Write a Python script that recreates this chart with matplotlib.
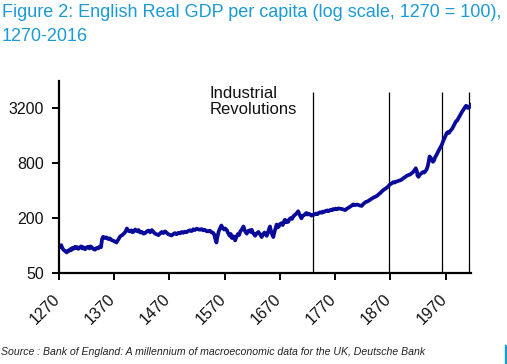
import matplotlib

matplotlib.use('Agg')
import matplotlib.pyplot as plt  # noqa: E402
import matplotlib.transforms as mtransforms  # noqa: E402
from matplotlib.patches import Rectangle  # noqa: E402

years = [1270, 1272, 1274, 1276, 1278, 1280, 1282, 1284, 1286, 1288, 1290, 1292, 1294,
         1296, 1299, 1301, 1303, 1305, 1307, 1310, 1312, 1314, 1317, 1320, 1322, 1325,
         1327, 1329, 1332, 1335, 1338, 1341, 1343, 1346, 1348, 1350, 1353, 1356, 1359,
         1362, 1365, 1368, 1371, 1374, 1377, 1380, 1382, 1385, 1388, 1390, 1393, 1395,
         1398, 1401, 1403, 1405, 1408, 1410, 1412, 1414, 1417, 1420, 1423, 1426, 1429,
         1432, 1435, 1438, 1441, 1444, 1447, 1450, 1453, 1456, 1459, 1462, 1465, 1468,
         1471, 1474, 1477, 1480, 1483, 1486, 1489, 1492, 1495, 1498, 1501, 1504, 1507,
         1510, 1513, 1516, 1519, 1522, 1525, 1528, 1531, 1534, 1537, 1540, 1543, 1546,
         1549, 1551, 1553, 1555, 1557, 1559, 1561, 1564, 1566, 1569, 1571, 1574, 1576,
         1579, 1581, 1583, 1586, 1589, 1591, 1594, 1596, 1598, 1601, 1604, 1606, 1608,
         1610, 1612, 1615, 1617, 1619, 1621, 1623, 1625, 1628, 1631, 1634, 1637, 1639,
         1642, 1644, 1646, 1648, 1650, 1652, 1654, 1656, 1658, 1660, 1662, 1664, 1666,
         1668, 1670, 1673, 1675, 1677, 1679, 1681, 1683, 1685, 1687, 1690, 1692, 1694,
         1696, 1699, 1701, 1703, 1705, 1707, 1709, 1711, 1714, 1716, 1718, 1720, 1722,
         1724, 1727, 1730, 1733, 1735, 1738, 1740, 1743, 1746, 1748, 1750, 1753, 1756,
         1758, 1761, 1764, 1766, 1768, 1771, 1773, 1776, 1779, 1782, 1785, 1788, 1791,
         1795, 1799, 1803, 1806, 1810, 1814, 1818, 1821, 1825, 1829, 1833, 1836, 1840,
         1843, 1846, 1849, 1851, 1854, 1858, 1862, 1866, 1868, 1870, 1873, 1875, 1878,
         1880, 1883, 1885, 1888, 1890, 1893, 1895, 1898, 1900, 1902, 1905, 1908, 1911,
         1913, 1915, 1916, 1918, 1919, 1921, 1923, 1925, 1927, 1929, 1931, 1933, 1935,
         1937, 1939, 1941, 1943, 1945, 1947, 1949, 1951, 1954, 1957, 1960, 1963, 1966,
         1969, 1972, 1974, 1976, 1978, 1980, 1982, 1984, 1987, 1989, 1991, 1993, 1996,
         1998, 2000, 2002, 2005, 2007, 2008, 2009, 2011, 2013, 2016]
gdp = [100, 97, 101, 94, 90, 88, 86, 84, 88, 87, 91, 89, 94,
       92, 97, 94, 96, 92, 95, 98, 93, 96, 91, 95, 97, 93,
       98, 96, 92, 90, 94, 93, 97, 96, 118, 125, 121, 123, 118,
       120, 115, 113, 111, 108, 116, 124, 128, 131, 137, 141, 154, 146,
       143, 147, 140, 142, 150, 147, 143, 148, 139, 141, 135, 137, 143,
       146, 140, 148, 141, 135, 133, 130, 136, 141, 137, 143, 138, 133,
       131, 129, 134, 137, 133, 138, 136, 141, 138, 142, 140, 145, 147,
       144, 151, 148, 153, 151, 149, 152, 147, 149, 144, 143, 146, 140,
       138, 132, 118, 108, 125, 142, 152, 166, 158, 150, 154, 147, 138,
       128, 134, 121, 126, 114, 124, 134, 130, 142, 150, 162, 148, 140,
       135, 144, 147, 141, 149, 138, 134, 128, 136, 141, 133, 124, 131,
       139, 135, 128, 137, 150, 162, 143, 132, 124, 140, 155, 170, 158,
       162, 172, 176, 168, 182, 192, 180, 186, 182, 195, 201, 196, 208,
       214, 222, 228, 238, 222, 210, 199, 212, 216, 223, 228, 219, 224,
       221, 213, 217, 220, 224, 221, 228, 232, 229, 236, 234, 240, 243,
       238, 246, 244, 251, 249, 254, 250, 256, 254, 252, 249, 245, 253,
       262, 272, 283, 278, 282, 276, 272, 286, 300, 306, 318, 326, 338,
       344, 352, 366, 374, 390, 410, 425, 443, 462, 472, 484, 496, 492,
       502, 508, 515, 520, 528, 545, 556, 572, 585, 592, 600, 618, 640,
       662, 690, 705, 655, 590, 568, 600, 612, 628, 640, 632, 650, 676,
       720, 810, 950, 920, 880, 830, 860, 930, 1000, 1090, 1180, 1270, 1420,
       1560, 1710, 1760, 1720, 1800, 1860, 1920, 2030, 2200, 2320, 2360, 2480, 2680,
       2820, 2960, 3080, 3300, 3420, 3400, 3260, 3250, 3290, 3480]

revolution_years = [1730, 1867, 1963, 2013]
x_ticks = [1270, 1370, 1470, 1570, 1670, 1770, 1870, 1970]
y_ticks = [50, 200, 800, 3200]

title = 'Figure 2: English Real GDP per capita (log scale, 1270 = 100),\n1270-2016'
source = 'Source : Bank of England: A millennium of macroeconomic data for the UK, Deutsche Bank'

fig = plt.figure(figsize=(5.07, 3.64), dpi=100)
ax = fig.add_axes([0.1164, 0.25, 0.8126, 0.5275])

ax.set_yscale('log')
ax.set_xlim(1270, 2016)
ax.set_ylim(50, 6400)

ax.vlines(revolution_years, 50, 4800, colors='black', linewidth=0.9, zorder=1)
ax.plot(years, gdp, color='#0a0a9a', linewidth=2.7, solid_joinstyle='round', zorder=2)

ax.set_yticks(y_ticks)
ax.set_yticklabels([str(v) for v in y_ticks])
ax.minorticks_off()
ax.set_xticks(x_ticks)
ax.set_xticklabels([str(v) for v in x_ticks], rotation=45, ha='right')

for side in ['top', 'right']:
    ax.spines[side].set_visible(False)
for side in ['left', 'bottom']:
    ax.spines[side].set_linewidth(1.6)
ax.tick_params(axis='both', direction='out', length=5, width=1.4, labelsize=11.5,
               labelcolor='#111111')
ax.tick_params(axis='y', pad=6)
ax.tick_params(axis='x', pad=8)
shift = mtransforms.ScaledTranslation(4 / 100, 0, fig.dpi_scale_trans)
for lbl in ax.get_xticklabels():
    lbl.set_transform(lbl.get_transform() + shift)
for lbl in ax.get_yticklabels() + ax.get_xticklabels():
    lbl.set_family('Liberation Sans')

ax.text(1543, 5700, 'Industrial\nRevolutions', fontsize=12, family='Liberation Sans',
        va='top', ha='left', linespacing=1.15, color='#111111')

fig.text(0.004, 0.99, title, fontsize=13, family='Liberation Sans', color='#1a9ad6',
         va='top', ha='left', linespacing=1.6)
fig.text(0.002, 0.02, source, fontsize=7.6, family='Liberation Sans', style='italic',
         color='#222222', va='bottom', ha='left')
fig.patches.append(Rectangle((505 / 507, 0), 3 / 507, 19 / 364, transform=fig.transFigure,
                             color='#1a9ad6'))

fig.savefig('out.png', dpi=100)
plt.close(fig)
